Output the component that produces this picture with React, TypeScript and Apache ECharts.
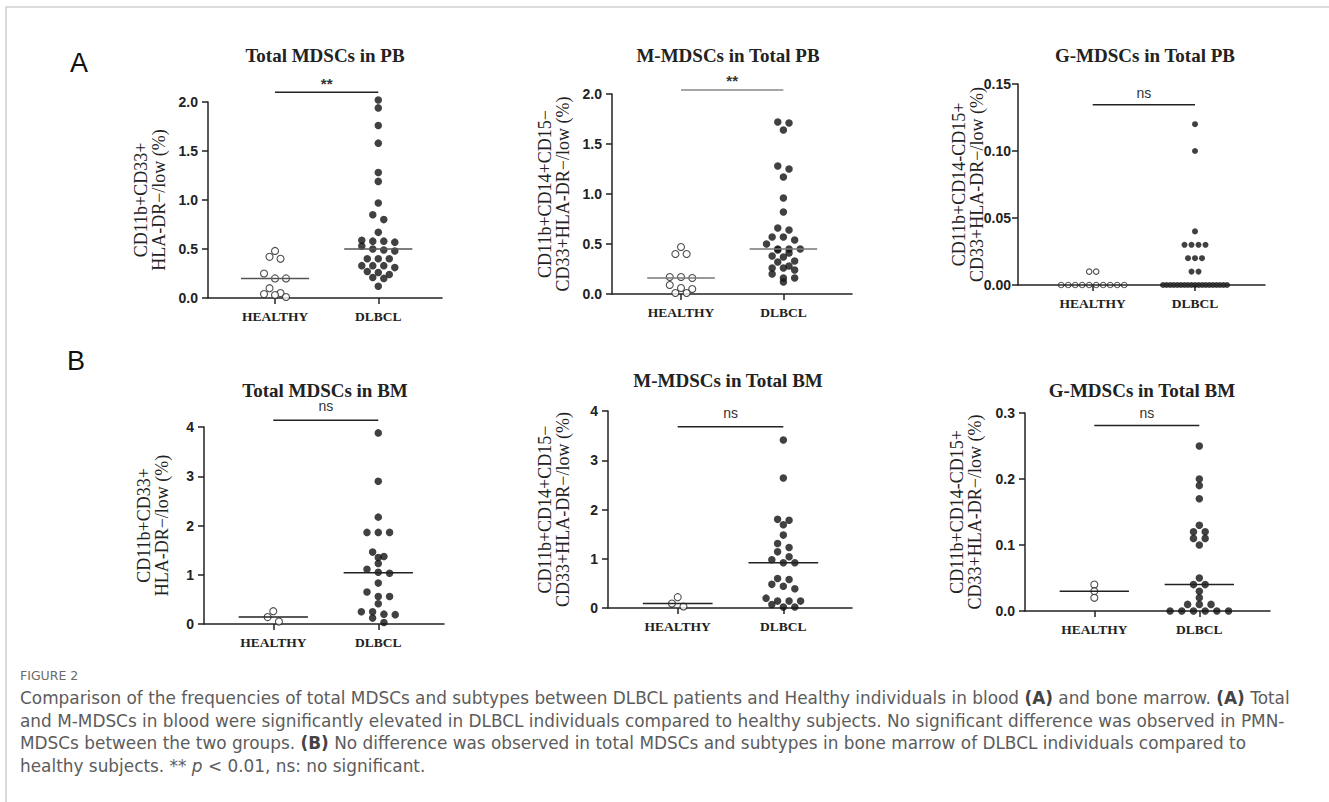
import React, { useEffect, useRef } from "react";
import * as echarts from "echarts";

// ---------- DATA ----------
const groups = ["HEALTHY", "DLBCL"];

const totalPbHealthy = [0.48, 0.42, 0.4, 0.25, 0.2, 0.2, 0.1, 0.05, 0.04, 0.03, 0.01];
const totalPbDlbcl = [2.02, 1.94, 1.76, 1.58, 1.28, 1.19, 0.97, 0.85, 0.8, 0.67, 0.59, 0.58, 0.58, 0.57, 0.53, 0.5, 0.49, 0.48, 0.4, 0.4, 0.4, 0.33, 0.33, 0.33, 0.31, 0.27, 0.26, 0.24, 0.21, 0.2, 0.12];

const mPbHealthy = [0.47, 0.4, 0.4, 0.17, 0.17, 0.16, 0.09, 0.06, 0.05, 0.01, 0.01];
const mPbDlbcl = [1.72, 1.71, 1.64, 1.28, 1.25, 1.17, 0.96, 0.82, 0.66, 0.64, 0.57, 0.57, 0.54, 0.5, 0.45, 0.45, 0.45, 0.44, 0.41, 0.38, 0.37, 0.33, 0.32, 0.28, 0.26, 0.26, 0.24, 0.2, 0.16, 0.16, 0.12];

const gPbHealthy = [0.01, 0.01, 0, 0, 0, 0, 0, 0, 0, 0, 0, 0];
const gPbDlbcl = [0.12, 0.1, 0.04, 0.03, 0.03, 0.03, 0.03, 0.02, 0.02, 0.02, 0.01, 0.01, 0, 0, 0, 0, 0, 0, 0, 0, 0, 0, 0, 0, 0, 0, 0, 0, 0, 0, 0];

const totalBmHealthy = [0.26, 0.14, 0.05];
const totalBmDlbcl = [3.88, 2.9, 2.17, 1.86, 1.86, 1.86, 1.46, 1.37, 1.35, 1.23, 1.11, 1.05, 1.03, 0.83, 0.65, 0.56, 0.56, 0.41, 0.25, 0.25, 0.2, 0.19, 0.12, 0.03];

const mBmHealthy = [0.22, 0.09, 0.03];
const mBmDlbcl = [3.41, 2.64, 1.8, 1.78, 1.69, 1.48, 1.31, 1.23, 1.14, 1.04, 0.98, 0.92, 0.92, 0.6, 0.58, 0.48, 0.44, 0.39, 0.2, 0.14, 0.14, 0.14, 0.07, 0.02, 0.02];

const gBmHealthy = [0.04, 0.03, 0.02];
const gBmDlbcl = [0.25, 0.2, 0.19, 0.17, 0.13, 0.12, 0.12, 0.11, 0.11, 0.1, 0.05, 0.04, 0.04, 0.03, 0.02, 0.01, 0.01, 0.01, 0, 0, 0, 0, 0, 0];

const panelTitles = ["Total MDSCs in PB", "M-MDSCs in Total PB", "G-MDSCs in Total PB", "Total MDSCs in BM", "M-MDSCs in Total BM", "G-MDSCs in Total BM"];
const yNames = [
  "CD11b+CD33+\nHLA-DR−/low (%)",
  "CD11b+CD14+CD15−\nCD33+HLA-DR−/low (%)",
  "CD11b+CD14-CD15+\nCD33+HLA-DR−/low (%)",
  "CD11b+CD33+\nHLA-DR−/low (%)",
  "CD11b+CD14+CD15−\nCD33+HLA-DR−/low (%)",
  "CD11b+CD14-CD15+\nCD33+HLA-DR−/low (%)",
];
const yMaxes = [2, 2, 0.15, 4, 4, 0.3];
const yIntervals = [0.5, 0.5, 0.05, 1, 1, 0.1];
const yDecimals = [1, 1, 2, 0, 0, 1];
const sigLabels = ["**", "**", "ns", "ns", "ns", "ns"];
const sigLevels = [2.1, 2.04, 0.1345, 4.136, 3.68, 0.281];

const captionHead = "FIGURE 2";
const captionLines = [
  "Comparison of the frequencies of total MDSCs and subtypes between DLBCL patients and Healthy individuals in blood {b|(A)} and bone marrow. {b|(A)} Total",
  "and M-MDSCs in blood were significantly elevated in DLBCL individuals compared to healthy subjects. No significant difference was observed in PMN-",
  "MDSCs between the two groups. {b|(B)} No difference was observed in total MDSCs and subtypes in bone marrow of DLBCL individuals compared to",
  "healthy subjects. ** {i|p} < 0.01, ns: no significant.",
];

const healthySets = [totalPbHealthy, mPbHealthy, gPbHealthy, totalBmHealthy, mBmHealthy, gBmHealthy];
const dlbclSets = [totalPbDlbcl, mPbDlbcl, gPbDlbcl, totalBmDlbcl, mBmDlbcl, gBmDlbcl];

// ---------- LAYOUT / STYLE ----------
const SERIF = '"Liberation Serif", "Times New Roman", serif';
const SANS = '"Liberation Sans", Arial, sans-serif';
const CAP = '"DejaVu Sans", "Open Sans", sans-serif';
const CAP_SIZE = 16.9;

const layouts = [
  { left: 208, top: 102, width: 234, height: 196, xMin: 0.351, xMax: 2.617, nameGap: 40, labelMargin: 10, tx: 325, ty: 55, sigColor: "#222", sigOff: 9, spacing: 11, maxSpan: 80, size: 7.5, medColor: "#555" },
  { left: 612, top: 94, width: 240, height: 200, xMin: 0.326, xMax: 2.67, nameGap: 40, labelMargin: 10, tx: 728, ty: 55, sigColor: "#888", sigOff: 10, spacing: 11.25, maxSpan: 80, size: 7.5, medColor: "#777" },
  { left: 1018, top: 84, width: 247, height: 201, xMin: 0.27, xMax: 2.684, nameGap: 32, labelMargin: 7, tx: 1145, ty: 55, sigColor: "#222", sigOff: 12, spacing: 7, maxSpan: 64, size: 6, medColor: "#333" },
  { left: 204, top: 427, width: 240, height: 197, xMin: 0.34, xMax: 2.626, nameGap: 33, labelMargin: 10, tx: 325, ty: 390, sigColor: "#222", sigOff: 14, spacing: 11.3, maxSpan: 80, size: 7.5, medColor: "#222" },
  { left: 608, top: 411, width: 244, height: 197, xMin: 0.34, xMax: 2.65, nameGap: 36, labelMargin: 10, tx: 728, ty: 380, sigColor: "#222", sigOff: 14, spacing: 11.5, maxSpan: 80, size: 7.5, medColor: "#222" },
  { left: 1025, top: 413, width: 245, height: 198, xMin: 0.34, xMax: 2.673, nameGap: 41, labelMargin: 10, tx: 1142, ty: 390, sigColor: "#222", sigOff: 13, spacing: 11.7, maxSpan: 80, size: 7.5, medColor: "#222" },
];

function median(vals: number[]): number {
  const s = [...vals].sort((a, b) => a - b);
  const n = s.length;
  return n % 2 ? s[(n - 1) / 2] : (s[n / 2 - 1] + s[n / 2]) / 2;
}

// GraphPad-like row swarm: points close in pixel-y share a row, spread horizontally
function swarm(vals: number[], cat: number, pxX: number, pxY: number, spacing: number, maxSpan: number, binH = 5) {
  const sorted = [...vals].sort((a, b) => b - a);
  const rows: number[][] = [];
  let cur: number[] = [];
  let start: number | null = null;
  for (const v of sorted) {
    if (start === null || (start - v) * pxY > binH) {
      if (cur.length) rows.push(cur);
      cur = [v];
      start = v;
    } else cur.push(v);
  }
  if (cur.length) rows.push(cur);
  const pts: number[][] = [];
  rows.forEach((row) => {
    const n = row.length;
    const sp = n > 1 ? Math.min(spacing, maxSpan / (n - 1)) : 0;
    row.forEach((v, i) => pts.push([cat + ((i - (n - 1) / 2) * sp) / pxX, v]));
  });
  return pts;
}

function buildOption() {
  const grid: any[] = [];
  const xAxis: any[] = [];
  const yAxis: any[] = [];
  const series: any[] = [];
  const graphic: any[] = [];

  layouts.forEach((L, i) => {
    grid.push({ left: L.left, top: L.top, width: L.width, height: L.height });
    const pxX = L.width / (L.xMax - L.xMin);
    const pxY = L.height / yMaxes[i];
    xAxis.push({
      type: "value",
      gridIndex: i,
      min: L.xMin,
      max: L.xMax,
      splitLine: { show: false },
      axisLine: { show: true, onZero: false, lineStyle: { color: "#222", width: 1.5 } },
      axisTick: { show: true, customValues: [1, 2], length: 6, lineStyle: { color: "#222", width: 1.5 } },
      axisLabel: {
        show: true,
        customValues: [1, 2],
        formatter: (v: number) => groups[Math.round(v) - 1] ?? "",
        fontFamily: SERIF,
        fontWeight: "bold",
        fontSize: 13.5,
        color: "#222",
        margin: 11,
      },
    });
    yAxis.push({
      type: "value",
      gridIndex: i,
      min: 0,
      max: yMaxes[i],
      interval: yIntervals[i],
      splitLine: { show: false },
      axisLine: { show: true, lineStyle: { color: "#222", width: 1.5 } },
      axisTick: { show: true, length: 6, lineStyle: { color: "#222", width: 1.5 } },
      axisLabel: {
        formatter: (v: number) => v.toFixed(yDecimals[i]),
        fontFamily: SANS,
        fontWeight: "bold",
        fontSize: 14,
        color: "#222",
        margin: L.labelMargin,
      },
      name: yNames[i],
      nameLocation: "middle",
      nameRotate: 90,
      nameGap: L.nameGap,
      nameMoveOverlap: false,
      nameTextStyle: { fontFamily: SERIF, fontSize: 18, lineHeight: 18, color: "#222" },
    });

    series.push({
      type: "scatter",
      xAxisIndex: i,
      yAxisIndex: i,
      clip: false,
      symbol: "circle",
      symbolSize: L.size - 0.5,
      itemStyle: { color: "#fff", borderColor: "#222", borderWidth: 1.1 },
      data: swarm(healthySets[i], 1, pxX, pxY, L.spacing, L.maxSpan),
      z: 3,
    });
    series.push({
      type: "scatter",
      xAxisIndex: i,
      yAxisIndex: i,
      clip: false,
      symbol: "circle",
      symbolSize: L.size,
      itemStyle: { color: "#111" },
      data: swarm(dlbclSets[i], 2, pxX, pxY, L.spacing, L.maxSpan),
      z: 3,
    });
    // median lines
    series.push({
      type: "custom",
      xAxisIndex: i,
      yAxisIndex: i,
      silent: true,
      clip: false,
      z: 4,
      data: [
        [1, median(healthySets[i])],
        [2, median(dlbclSets[i])],
      ],
      renderItem: (_p: any, api: any) => {
        const c = api.value(0);
        const v = api.value(1);
        const a = api.coord([c - 0.33, v]);
        const b = api.coord([c + 0.33, v]);
        return { type: "line", shape: { x1: a[0], y1: a[1], x2: b[0], y2: b[1] }, style: { stroke: L.medColor, lineWidth: 1.5 } };
      },
    });
    // significance bar
    series.push({
      type: "custom",
      xAxisIndex: i,
      yAxisIndex: i,
      silent: true,
      clip: false,
      z: 4,
      data: [[1.5, sigLevels[i]]],
      renderItem: (_p: any, api: any) => {
        const v = api.value(1);
        const a = api.coord([1, v]);
        const b = api.coord([2, v]);
        return {
          type: "group",
          children: [
            { type: "line", shape: { x1: a[0], y1: a[1], x2: b[0], y2: b[1] }, style: { stroke: L.sigColor, lineWidth: 1.5 } },
            {
              type: "text",
              x: (a[0] + b[0]) / 2,
              y: a[1] - L.sigOff,
              style: {
                text: sigLabels[i],
                fill: "#333",
                fontFamily: SANS,
                fontSize: sigLabels[i] === "**" ? 15 : 14,
                fontWeight: sigLabels[i] === "**" ? "bold" : "normal",
                align: "center",
                verticalAlign: "middle",
                textAlign: "center",
                textVerticalAlign: "middle",
              },
            },
          ],
        };
      },
    });

    graphic.push({
      type: "text",
      x: L.tx,
      y: L.ty,
      style: {
        text: panelTitles[i],
        fill: "#222",
        fontFamily: SERIF,
        fontWeight: "bold",
        fontSize: 19,
        align: "center",
        verticalAlign: "middle",
        textAlign: "center",
        textVerticalAlign: "middle",
      },
    });
  });

  // frame
  graphic.push({ type: "rect", silent: true, shape: { x: 6, y: 7, width: 1400, height: 900 }, style: { fill: "none", stroke: "#cfcfcf", lineWidth: 1.5 } });
  // panel letters
  graphic.push({ type: "text", x: 79, y: 63, style: { text: "A", fill: "#111", fontFamily: SANS, fontSize: 27, align: "center", verticalAlign: "middle", textAlign: "center", textVerticalAlign: "middle" } });
  graphic.push({ type: "text", x: 76, y: 361, style: { text: "B", fill: "#111", fontFamily: SANS, fontSize: 27, align: "center", verticalAlign: "middle", textAlign: "center", textVerticalAlign: "middle" } });
  // caption
  graphic.push({ type: "text", x: 20, y: 675, style: { text: captionHead, fill: "#6a6a6a", fontFamily: CAP, fontSize: 12.5, verticalAlign: "middle", textVerticalAlign: "middle" } });
  const capY = [698, 720.5, 743, 765.5];
  captionLines.forEach((t, k) => {
    graphic.push({
      type: "text",
      x: 20,
      y: capY[k],
      style: {
        text: t,
        fill: "#5c5c5c",
        fontFamily: CAP,
        fontSize: CAP_SIZE,
        verticalAlign: "middle",
        textVerticalAlign: "middle",
        rich: {
          b: { fontFamily: CAP, fontSize: CAP_SIZE, fontWeight: "bold", fill: "#444", color: "#444" },
          i: { fontFamily: CAP, fontSize: CAP_SIZE, fontStyle: "italic", fill: "#5c5c5c", color: "#5c5c5c" },
        },
      },
    });
  });

  return {
    animation: false,
    backgroundColor: "#fff",
    grid,
    xAxis,
    yAxis,
    series,
    graphic,
  };
}

export default function App() {
  const ref = useRef<HTMLDivElement>(null);
  useEffect(() => {
    if (!ref.current) return;
    const chart = echarts.init(ref.current, null, { renderer: "svg" });
    chart.setOption(buildOption() as any);
    return () => chart.dispose();
  }, []);
  return <div ref={ref} style={{ position: "fixed", left: 0, top: 0, width: 1329, height: 802, background: "#fff" }} />;
}
